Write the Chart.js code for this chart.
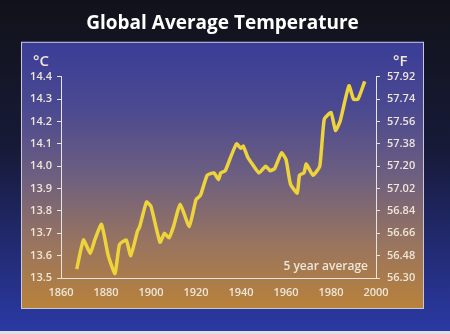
<!DOCTYPE html>
<html>
<head>
<meta charset="utf-8">
<script src="https://cdn.jsdelivr.net/npm/chart.js@4"></script>
<style>
  html, body { margin: 0; padding: 0; background: #12131c; }
  #wrap { width: 450px; height: 334px; }
</style>
</head>
<body>
<div id="wrap"><canvas id="chartTemp" width="450" height="334"></canvas></div>
<script>
// 5 year average
const years = [1867, 1870, 1873, 1875, 1878, 1881, 1884, 1886, 1889, 1891,
               1894, 1895, 1898, 1900, 1904, 1906, 1908, 1910, 1913, 1917,
               1920, 1922, 1925, 1928, 1930, 1931, 1933, 1935, 1938, 1940,
               1941, 1943, 1945, 1948, 1951, 1953, 1955, 1958, 1960, 1962,
               1965, 1966, 1968, 1969, 1972, 1975, 1977, 1980, 1982, 1984,
               1985, 1988, 1990, 1992, 1995];
const tempC = [13.54, 13.67, 13.61, 13.67, 13.74, 13.60, 13.52, 13.65, 13.67, 13.60,
               13.71, 13.73, 13.84, 13.82, 13.66, 13.70, 13.68, 13.73, 13.83, 13.73,
               13.85, 13.87, 13.96, 13.97, 13.94, 13.97, 13.98, 14.03, 14.10, 14.08,
               14.09, 14.04, 14.01, 13.97, 14.00, 13.98, 13.99, 14.06, 14.03, 13.92,
               13.88, 13.96, 13.97, 14.01, 13.96, 14.00, 14.21, 14.24, 14.16, 14.20,
               14.24, 14.36, 14.30, 14.30, 14.38];

const titulo = 'Global Average Temperature';
const nota = '5 year average';
const tickFont = { family: 'Open Sans', size: 11, weight: '600' };
const tickColor = '#eee6d8';

// fondo oscuro + panel con degradado azul -> naranja
const fondo = {
    id: 'fondo',
    beforeDraw(chart) {
        const { ctx, width, height, chartArea: a } = chart;
        ctx.save();
        let g = ctx.createLinearGradient(0, 0, 0, height);
        g.addColorStop(0, '#111219');
        g.addColorStop(0.45, '#171a38');
        g.addColorStop(1, '#2b3aa6');
        ctx.fillStyle = g;
        ctx.fillRect(0, 0, width, height);
        ctx.fillStyle = '#dfe0ea';
        ctx.fillRect(0, height - 3, width, 3);

        const px = a.left - 40, py = a.top - 35;
        const pw = a.right + 48 - px, ph = a.bottom + 31 - py;
        g = ctx.createLinearGradient(0, py, 0, py + ph);
        g.addColorStop(0, '#3a3d98');
        g.addColorStop(0.25, '#4b4990');
        g.addColorStop(0.5, '#6d5f80');
        g.addColorStop(0.75, '#987460');
        g.addColorStop(1, '#b9823a');
        ctx.fillStyle = g;
        ctx.fillRect(px, py, pw, ph);
        ctx.strokeStyle = '#c9c6d8';
        ctx.lineWidth = 1;
        ctx.strokeRect(px + 0.5, py + 0.5, pw - 1, ph - 1);

        ctx.fillStyle = tickColor;
        ctx.font = '600 15px "Open Sans"';
        ctx.textBaseline = 'middle';
        ctx.textAlign = 'left';
        ctx.fillText('°C', a.left - 28, a.top - 15);
        ctx.fillText('°F', a.right + 17, a.top - 15);
        ctx.font = '600 12px "Open Sans"';
        ctx.textAlign = 'right';
        ctx.fillText(nota, a.right - 8, a.bottom - 11);
        ctx.restore();
    }
};

new Chart(document.getElementById('chartTemp'), {
    type: 'line',
    data: {
        datasets: [{
            label: 'Temperatura',
            data: years.map((y, i) => ({ x: y, y: tempC[i] })),
            borderColor: '#eed33a',
            borderWidth: 3.5,
            pointRadius: 0,
            tension: 0.15,
            yAxisID: 'y'
        }]
    },
    options: {
        responsive: false,
        animation: false,
        layout: { padding: { left: 21, right: 26, bottom: 26, top: 0 } },
        plugins: {
            legend: { display: false },
            tooltip: { enabled: false },
            title: {
                display: true,
                text: titulo,
                color: '#ffffff',
                font: { family: 'Open Sans', size: 19, weight: 'bold' },
                padding: { top: 12, bottom: 42 }
            }
        },
        scales: {
            x: {
                type: 'linear',
                min: 1860, max: 2000,
                afterFit: s => { s.height = 30; },
                ticks: { stepSize: 20, color: tickColor, font: tickFont, padding: 8, maxRotation: 0,
                         callback: v => String(v) },
                grid: { drawOnChartArea: false, drawTicks: false },
                border: { color: '#e8e4e0', width: 1 }
            },
            y: {
                position: 'left',
                min: 13.5, max: 14.4,
                afterFit: s => { s.width = 40; },
                ticks: { stepSize: 0.1, color: tickColor, font: tickFont, padding: 5,
                         callback: v => v.toFixed(1) },
                grid: { drawOnChartArea: false, tickLength: 4, color: '#e8e4e0' },
                border: { color: '#e8e4e0', width: 1 }
            },
            yF: {
                position: 'right',
                min: 13.5, max: 14.4,
                afterFit: s => { s.width = 48; },
                ticks: { stepSize: 0.1, color: tickColor, font: tickFont, padding: 7,
                         callback: v => (v * 1.8 + 32).toFixed(2) },
                grid: { drawOnChartArea: false, tickLength: 4, color: '#e8e4e0' },
                border: { color: '#e8e4e0', width: 1 }
            }
        }
    },
    plugins: [fondo]
});
</script>
</body>
</html>
